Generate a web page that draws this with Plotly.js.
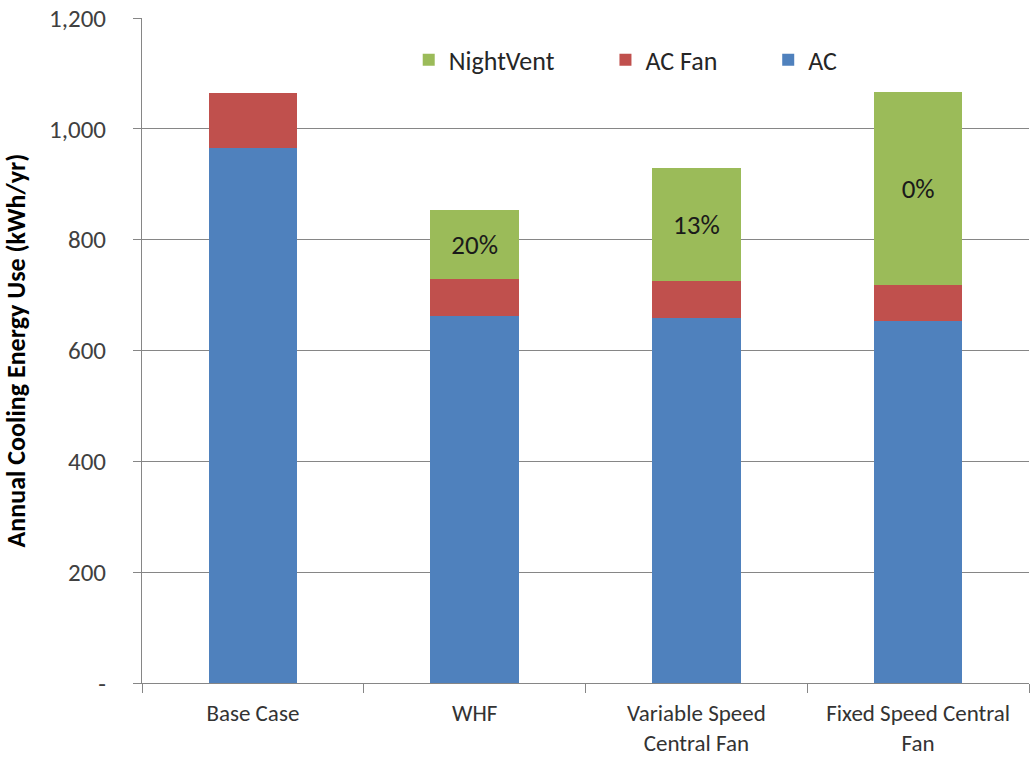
<!DOCTYPE html>
<html>
<head>
<meta charset="utf-8">
<script src="https://cdn.plot.ly/plotly-3.0.1.min.js"></script>
<style>
  html, body { margin: 0; padding: 0; background: #ffffff; }
  #chart { width: 1030px; height: 761px; }
</style>
</head>
<body>
<div id="chart"></div>
<script>
// Annual cooling energy use by ventilation strategy (kWh/yr)
const categories = ["Base Case", "WHF", "Variable Speed<br>Central Fan", "Fixed Speed Central<br>Fan"];
const acValues = [965, 662, 659, 653];
const acFanValues = [100, 67, 67, 66];
const nightVent = [0, 124, 204, 347];
const nightVentLabels = ["", "20%", "13%", "0%"];
const yTickValues = [0, 200, 400, 600, 800, 1000, 1200];
const yTickLabels = ["-", "200", "400", "600", "800", "1,000", "1,200"];

const FONT = "Carlito, Calibri, Lato, 'Liberation Sans Narrow', sans-serif";
const TEXT_COLOR = "#404040";

const traces = [
  {
    type: "bar", name: "AC", x: categories, y: acValues,
    marker: { color: "#4F81BD" }, width: 0.4, legend: "legend3",
    hoverinfo: "skip"
  },
  {
    type: "bar", name: "AC Fan", x: categories, y: acFanValues,
    marker: { color: "#C0504D" }, width: 0.4, legend: "legend2",
    hoverinfo: "skip"
  },
  {
    type: "bar", name: "NightVent", x: categories, y: nightVent,
    marker: { color: "#9BBB59" }, width: 0.4, legend: "legend",
    text: nightVentLabels, textposition: "inside", insidetextanchor: "middle",
    textfont: { family: FONT, size: 27, color: "#1a1a1a" },
    constraintext: "none", textangle: 0,
    hoverinfo: "skip"
  }
];

const legendBase = {
  orientation: "h", yanchor: "middle", xanchor: "left",
  bgcolor: "rgba(0,0,0,0)", font: { family: FONT, size: 26, color: "#262626" },
  itemwidth: 30
};

const layout = {
  width: 1030, height: 761,
  margin: { l: 142, r: 1, t: 18, b: 78 },
  paper_bgcolor: "#ffffff", plot_bgcolor: "#ffffff",
  barmode: "stack",
  font: { family: FONT, size: 24, color: TEXT_COLOR },
  showlegend: true,
  legend: Object.assign({}, legendBase, { x: 0.3007, y: 0.937 }),
  legend2: Object.assign({}, legendBase, { x: 0.5225, y: 0.937 }),
  legend3: Object.assign({}, legendBase, { x: 0.706, y: 0.937 }),
  xaxis: {
    type: "category", tickson: "boundaries",
    ticks: "outside", ticklen: 9, tickcolor: "#868686", tickwidth: 1,
    showline: true, linecolor: "#868686", linewidth: 1,
    showgrid: false, zeroline: false,
    tickfont: { family: FONT, size: 23, color: "#333333" },
    ticklabelstandoff: 9,
    fixedrange: true
  },
  yaxis: {
    range: [0, 1200],
    tickvals: yTickValues, ticktext: yTickLabels,
    ticks: "outside", ticklen: 8, tickcolor: "#868686",
    showline: true, linecolor: "#868686", linewidth: 1,
    showgrid: true, gridcolor: "#868686", gridwidth: 1,
    zeroline: false,
    tickfont: { family: FONT, size: 25, color: TEXT_COLOR },
    ticklabelstandoff: 22,
    title: { text: "<b>Annual Cooling Energy Use (kWh/yr)</b>", font: { family: FONT, size: 26, color: "#000000" }, standoff: 15 },
    fixedrange: true
  }
};

Plotly.newPlot("chart", traces, layout, { displayModeBar: false, staticPlot: true });
</script>
</body>
</html>
